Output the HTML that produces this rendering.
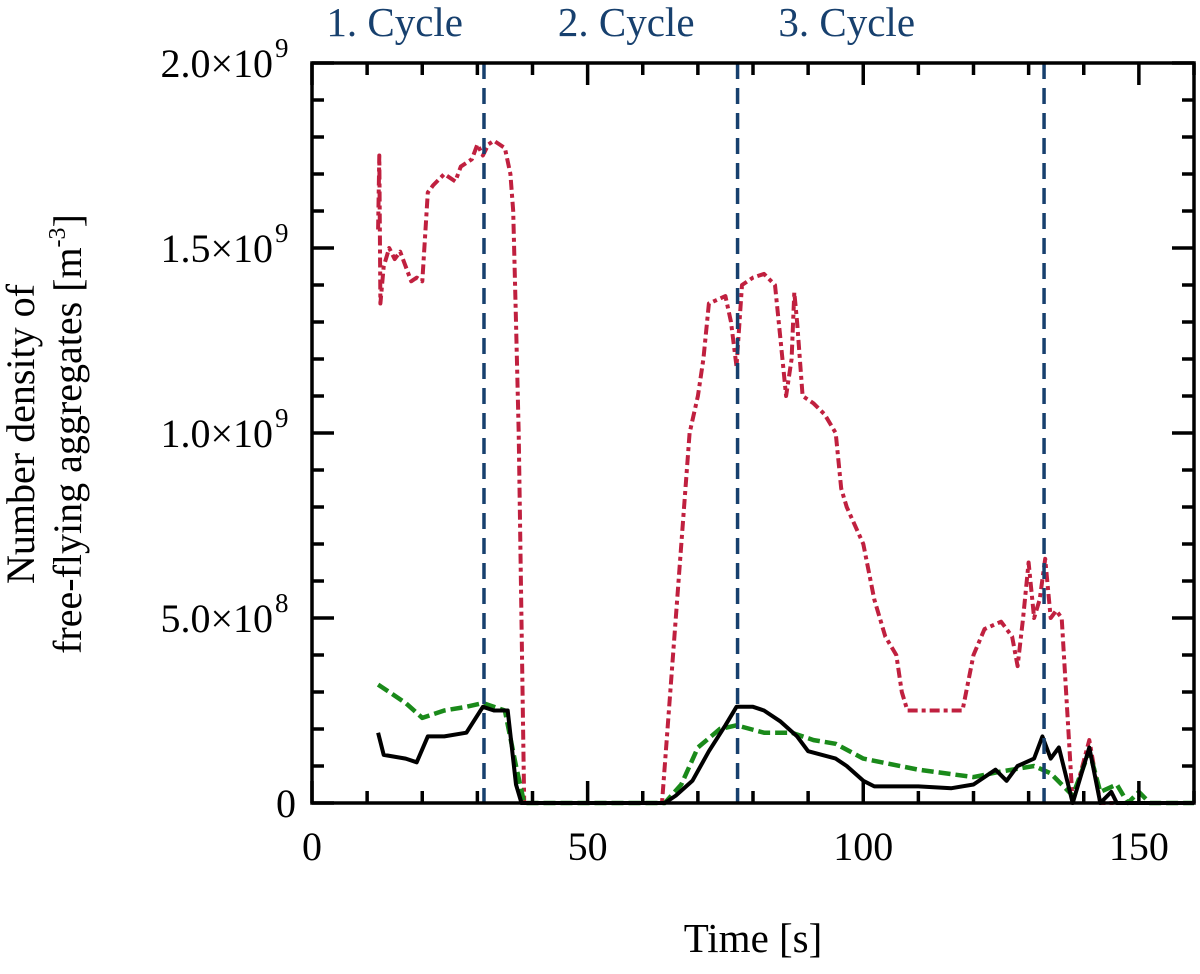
<!DOCTYPE html>
<html><head><meta charset="utf-8"><style>
body{margin:0;background:#fff}
text{font-family:"Liberation Serif",serif}
</style></head><body>
<svg id="c" width="1200" height="969" xmlns="http://www.w3.org/2000/svg"></svg>
<script>
const xTicks=[0,50,100,150];
const yTicks=[0,5e8,1e9,1.5e9,2e9];
const yTickLabels=["0","5.0×10","1.0×10","1.5×10","2.0×10"];
const yTickExp=["","8","9","9","9"];
const cycleLines=[31.2,77.2,132.8];
const cycleLabels=["1. Cycle","2. Cycle","3. Cycle"];
const cycleLabelX=[15,57,97];
const redT=[12,12.2,12.4,13,14,15,16,17,18,19,20,21,22,24,26,27,29,30,31,32,33,34,35,36,36.5,37,37.5,38.5,63.5,66,68.5,70,71,72,75,76,77,78,80,82,84,85,86,87,87.5,88,89,91,93,95,96,97,100,102,104,106,107,108,118,120,122,125,127,128,129,130,131,132,133,134,135,136,138,141,143,160];
const redV=[1.55,1.75,1.35,1.45,1.5,1.47,1.49,1.45,1.41,1.42,1.41,1.65,1.67,1.7,1.68,1.72,1.74,1.78,1.75,1.78,1.79,1.78,1.77,1.7,1.6,1.3,1.0,0,0,0.5,1.0,1.1,1.2,1.35,1.37,1.3,1.18,1.4,1.42,1.43,1.4,1.25,1.1,1.2,1.38,1.3,1.1,1.08,1.05,1.0,0.85,0.8,0.7,0.55,0.45,0.4,0.3,0.25,0.25,0.4,0.47,0.49,0.45,0.37,0.5,0.65,0.5,0.55,0.66,0.5,0.52,0.5,0,0.17,0,0].map(v=>v*1e9);
const blackT=[12,13,17,19,21,24,28,31,33,35.5,37,38,64,66,69,72,75,77,80,82,85,88,90,95,97,100,102,110,116,120,124,126,128,131,132.5,134,135.5,138,141,143,145,146,160];
const blackV=[0.19,0.13,0.12,0.11,0.18,0.18,0.19,0.26,0.25,0.25,0.05,0,0,0.02,0.06,0.14,0.21,0.26,0.26,0.25,0.22,0.18,0.14,0.12,0.1,0.06,0.045,0.045,0.04,0.05,0.09,0.06,0.1,0.12,0.18,0.12,0.15,0,0.15,0,0.03,0,0].map(v=>v*1e9);
const greenT=[12,14,17,20,24,28,31,35,37,38.5,64,67,70,74,77,82,87,91,95,100,110,120,125,131,134,138,141,143,146,148,150,152,160];
const greenV=[0.32,0.3,0.27,0.23,0.25,0.26,0.27,0.25,0.1,0,0,0.05,0.15,0.2,0.21,0.19,0.19,0.17,0.16,0.12,0.09,0.07,0.085,0.1,0.08,0.02,0.14,0.03,0.05,0,0.03,0,0].map(v=>v*1e9);

const X0=312,X1=1194,Y0=803,Y1=63,TMAX=160,VMAX=2e9;
const sx=t=>X0+(X1-X0)*t/TMAX, sy=v=>Y0-(Y0-Y1)*v/VMAX;
const svg=document.getElementById('c'),NS="http://www.w3.org/2000/svg";
function mk(tag,attrs,txt,parent){const e=document.createElementNS(NS,tag);for(const k in attrs)e.setAttribute(k,attrs[k]);if(txt!==undefined)e.textContent=txt;(parent||svg).appendChild(e);return e;}
function series(T,V,color,dash,w,name){
  const d=T.map((t,i)=>(i?'L':'M')+sx(t).toFixed(1)+' '+sy(V[i]).toFixed(1)).join(' ');
  const p=mk('path',{d:d,fill:'none',stroke:color,'stroke-width':w,'stroke-dasharray':dash,'stroke-linejoin':'round'});
  
  
}
series(redT,redV,'#c0203f','10 4 4 4',4,'series-red-dashdot');
series(greenT,greenV,'#1a8a1a','12 5',4.5,'series-green-dashed');
series(blackT,blackV,'#000','',4,'series-black-solid');
cycleLines.forEach((c,i)=>{
  const l=mk('line',{x1:sx(c),x2:sx(c),y1:Y1,y2:Y0,stroke:'#17406e','stroke-width':3.5,'stroke-dasharray':'16 9'});
  
  
});
cycleLabels.forEach((s,i)=>{
  const t=mk('text',{x:sx(cycleLabelX[i]),y:36,'text-anchor':'middle','font-size':41,fill:'#17406e'},s);
  
  
});
const f=mk('rect',{x:X0,y:Y1,width:X1-X0,height:Y0-Y1,fill:'none',stroke:'#000','stroke-width':3.5});


for(let t=0;t<=TMAX;t+=10){const L=t%50===0?22:12;
  mk('line',{x1:sx(t),x2:sx(t),y1:Y0,y2:Y0-L,stroke:'#000','stroke-width':3.5});
  mk('line',{x1:sx(t),x2:sx(t),y1:Y1,y2:Y1+L,stroke:'#000','stroke-width':3.5});}
for(let v=0;v<=VMAX;v+=1e8){const L=Math.round(v/1e8)%5===0?22:12;
  mk('line',{x1:X0,x2:X0+L,y1:sy(v),y2:sy(v),stroke:'#000','stroke-width':3.5});
  mk('line',{x1:X1,x2:X1-L,y1:sy(v),y2:sy(v),stroke:'#000','stroke-width':3.5});}
xTicks.forEach(t=>{const e=mk('text',{x:sx(t),y:860,'text-anchor':'middle','font-size':40},String(t));
  
  });
yTicks.forEach((v,i)=>{
  const e=mk('text',{x:yTickExp[i]?273:296,y:sy(v)+14,'text-anchor':'end','font-size':40},yTickLabels[i]);
  
  
  if(yTickExp[i]){const s=mk('text',{x:275,y:sy(v)-6,'font-size':27},yTickExp[i]);
    
    }
});
const xt=mk('text',{x:753,y:952,'text-anchor':'middle','font-size':41},'Time [s]');


const yt1=mk('text',{x:0,y:0,'text-anchor':'middle','font-size':40,transform:'translate(34,434) rotate(-90)'},'Number density of');


const yt2=mk('text',{x:0,y:0,'text-anchor':'middle','font-size':40,transform:'translate(81,434) rotate(-90)'});


mk('tspan',{},'free-flying aggregates [m',yt2);
mk('tspan',{'font-size':24,dy:-16},'-3',yt2);
mk('tspan',{dy:16},']',yt2);
</script>
</body></html>
